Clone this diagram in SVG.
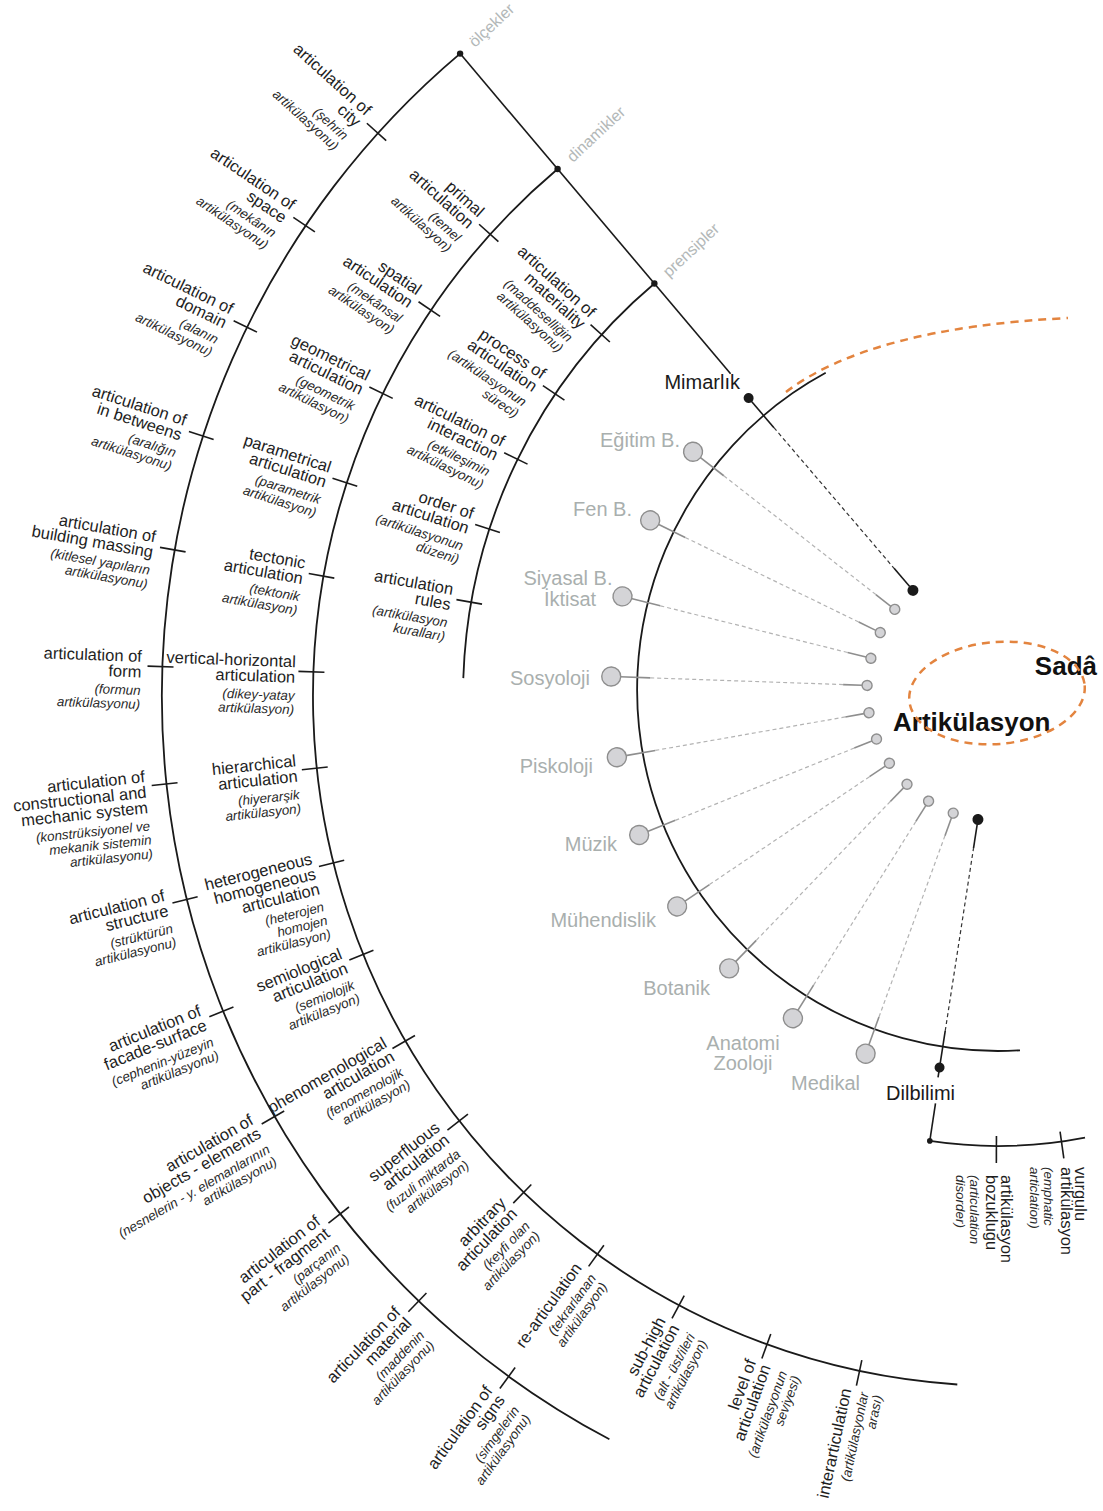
<svg xmlns="http://www.w3.org/2000/svg" width="1103" height="1511" viewBox="0 0 1103 1511">
<style>
.arc{fill:none;stroke:#1a1a1a;stroke-width:1.8}
.tk{stroke:#1a1a1a;stroke-width:1.6}
.b{font-family:"Liberation Sans",Arial,sans-serif;font-size:16.5px;fill:#1e1e1e;text-anchor:end}
.i{font-family:"Liberation Sans",Arial,sans-serif;font-size:13.4px;font-style:italic;fill:#2a2a2a;text-anchor:end}
.bs{font-family:"Liberation Sans",Arial,sans-serif;font-size:16.5px;fill:#1e1e1e}
.is{font-family:"Liberation Sans",Arial,sans-serif;font-size:13.4px;font-style:italic;fill:#2a2a2a}
.g{font-family:"Liberation Sans",Arial,sans-serif;font-size:20px;fill:#a9afae}
.k{font-family:"Liberation Sans",Arial,sans-serif;font-size:20px;fill:#1a1a1a}
.cat{font-family:"Liberation Sans",Arial,sans-serif;font-size:16px;fill:#b3b8b8}
.big{font-family:"Liberation Sans",Arial,sans-serif;font-size:26px;font-weight:bold;fill:#111}
.gc{fill:#d4d4d7;stroke:#8e8e8e;stroke-width:1.4}
.gs{stroke:#8e8e8e;stroke-width:1.6}
.gd{stroke:#b3b3b3;stroke-width:1.2;stroke-dasharray:4 3}
.ks{stroke:#1a1a1a;stroke-width:1.6}
.kd{stroke:#333;stroke-width:1.2;stroke-dasharray:4 3}
.or{fill:none;stroke:#e3843f;stroke-width:2.5;stroke-dasharray:8 6}
</style>

<g id="arcs">
<path class="arc" d="M 460.1 53.6 A 841 841 0 0 0 609.4 1439.3"/>
<path class="arc" d="M 557.6 169 A 690 690 0 0 0 957.3 1384.5"/>
<path class="arc" d="M 654.4 283.5 A 540 540 0 0 0 463.3 678.1"/>
<path class="arc" d="M 825.7 372.8 A 361 361 0 0 0 1020 1050.3"/>
<path class="arc" d="M 929.8 1140.9 A 456 456 0 0 0 1085 1137.6"/>
<path class="or" d="M 786 392 Q 870 328 1068 318"/>
</g>

<g id="connectors">
<line class="ks" x1="460.1" y1="53.6" x2="730.6" y2="373.7"/>
<line class="ks" x1="935.5" y1="1103.3" x2="929.8" y2="1140.9"/>
<g transform="rotate(229.5 998 690)"><line class="ks" x1="1382" y1="690" x2="1343" y2="690"/><line class="kd" x1="1343" y1="690" x2="1158" y2="690"/><line class="ks" x1="1158" y1="690" x2="1134" y2="690"/></g>
<g transform="rotate(98.8 998 690)"><line class="ks" x1="1390" y1="690" x2="1343" y2="690"/><line class="kd" x1="1343" y1="690" x2="1158" y2="690"/><line class="ks" x1="1158" y1="690" x2="1134" y2="690"/></g>
<g transform="rotate(218 998 690)"><line class="gs" x1="1376" y1="690" x2="1346" y2="690"/><line class="gd" x1="1346" y1="690" x2="1153" y2="690"/><line class="gs" x1="1153" y1="690" x2="1134" y2="690"/></g>
<g transform="rotate(206 998 690)"><line class="gs" x1="1376" y1="690" x2="1346" y2="690"/><line class="gd" x1="1346" y1="690" x2="1153" y2="690"/><line class="gs" x1="1153" y1="690" x2="1134" y2="690"/></g>
<g transform="rotate(194 998 690)"><line class="gs" x1="1376" y1="690" x2="1346" y2="690"/><line class="gd" x1="1346" y1="690" x2="1153" y2="690"/><line class="gs" x1="1153" y1="690" x2="1134" y2="690"/></g>
<g transform="rotate(182 998 690)"><line class="gs" x1="1376" y1="690" x2="1346" y2="690"/><line class="gd" x1="1346" y1="690" x2="1153" y2="690"/><line class="gs" x1="1153" y1="690" x2="1134" y2="690"/></g>
<g transform="rotate(170 998 690)"><line class="gs" x1="1376" y1="690" x2="1346" y2="690"/><line class="gd" x1="1346" y1="690" x2="1153" y2="690"/><line class="gs" x1="1153" y1="690" x2="1134" y2="690"/></g>
<g transform="rotate(158 998 690)"><line class="gs" x1="1376" y1="690" x2="1346" y2="690"/><line class="gd" x1="1346" y1="690" x2="1153" y2="690"/><line class="gs" x1="1153" y1="690" x2="1134" y2="690"/></g>
<g transform="rotate(146 998 690)"><line class="gs" x1="1376" y1="690" x2="1346" y2="690"/><line class="gd" x1="1346" y1="690" x2="1153" y2="690"/><line class="gs" x1="1153" y1="690" x2="1134" y2="690"/></g>
<g transform="rotate(134 998 690)"><line class="gs" x1="1376" y1="690" x2="1346" y2="690"/><line class="gd" x1="1346" y1="690" x2="1153" y2="690"/><line class="gs" x1="1153" y1="690" x2="1134" y2="690"/></g>
<g transform="rotate(122 998 690)"><line class="gs" x1="1376" y1="690" x2="1346" y2="690"/><line class="gd" x1="1346" y1="690" x2="1153" y2="690"/><line class="gs" x1="1153" y1="690" x2="1134" y2="690"/></g>
<g transform="rotate(110 998 690)"><line class="gs" x1="1376" y1="690" x2="1346" y2="690"/><line class="gd" x1="1346" y1="690" x2="1153" y2="690"/><line class="gs" x1="1153" y1="690" x2="1134" y2="690"/></g>
</g>

<g id="n-categories">
<circle cx="460.1" cy="53.6" r="3.2" fill="#1a1a1a"/>
<circle cx="557.6" cy="169" r="3.2" fill="#1a1a1a"/>
<circle cx="654.4" cy="283.5" r="3.2" fill="#1a1a1a"/>
<text class="cat" transform="translate(475 48) rotate(-43)">ölçekler</text>
<text class="cat" transform="translate(573 163) rotate(-43)">dinamikler</text>
<text class="cat" transform="translate(669 278) rotate(-43)">prensipler</text>
</g>

<!-- outer arc labels -->
<g id="n-city" transform="translate(1003 696) rotate(42) translate(-841 0)"><line class="tk" x1="-15" y1="0" x2="11" y2="0"/><text class="b"><tspan x="-21" y="-4">articulation of</tspan><tspan x="-21" y="11.5">city</tspan></text><text class="i"><tspan x="-21" y="29">(şehrin</tspan><tspan x="-21" y="43">artikülasyonu)</tspan></text></g>
<g id="n-space" transform="translate(1003 696) rotate(34) translate(-841 0)"><line class="tk" x1="-15" y1="0" x2="11" y2="0"/><text class="b"><tspan x="-21" y="-4">articulation of</tspan><tspan x="-21" y="11.5">space</tspan></text><text class="i"><tspan x="-21" y="29">(mekânın</tspan><tspan x="-21" y="43">artikülasyonu)</tspan></text></g>
<g id="n-domain" transform="translate(1003 696) rotate(26) translate(-841 0)"><line class="tk" x1="-15" y1="0" x2="11" y2="0"/><text class="b"><tspan x="-21" y="-4">articulation of</tspan><tspan x="-21" y="11.5">domain</tspan></text><text class="i"><tspan x="-21" y="29">(alanın</tspan><tspan x="-21" y="43">artikülasyonu)</tspan></text></g>
<g id="n-inbetweens" transform="translate(1003 696) rotate(18) translate(-841 0)"><line class="tk" x1="-15" y1="0" x2="11" y2="0"/><text class="b"><tspan x="-21" y="-4">articulation of</tspan><tspan x="-21" y="11.5">in betweens</tspan></text><text class="i"><tspan x="-21" y="29">(aralığın</tspan><tspan x="-21" y="43">artikülasyonu)</tspan></text></g>
<g id="n-massing" transform="translate(1003 696) rotate(10) translate(-841 0)"><line class="tk" x1="-15" y1="0" x2="11" y2="0"/><text class="b"><tspan x="-21" y="-4">articulation of</tspan><tspan x="-21" y="11.5">building massing</tspan></text><text class="i"><tspan x="-21" y="29">(kitlesel yapıların</tspan><tspan x="-21" y="43">artikülasyonu)</tspan></text></g>
<g id="n-form" transform="translate(1003 696) rotate(2) translate(-841 0)"><line class="tk" x1="-15" y1="0" x2="11" y2="0"/><text class="b"><tspan x="-21" y="-4">articulation of</tspan><tspan x="-21" y="11.5">form</tspan></text><text class="i"><tspan x="-21" y="29">(formun</tspan><tspan x="-21" y="43">artikülasyonu)</tspan></text></g>
<g id="n-constructional" transform="translate(1003 696) rotate(-6) translate(-841 0)"><line class="tk" x1="-15" y1="0" x2="11" y2="0"/><text class="b"><tspan x="-21" y="-4">articulation of</tspan><tspan x="-21" y="11.5">constructional and</tspan><tspan x="-21" y="27">mechanic system</tspan></text><text class="i"><tspan x="-21" y="44.5">(konstrüksiyonel ve</tspan><tspan x="-21" y="58.5">mekanik sistemin</tspan><tspan x="-21" y="72.5">artikülasyonu)</tspan></text></g>
<g id="n-structure" transform="translate(1003 696) rotate(-14) translate(-841 0)"><line class="tk" x1="-15" y1="0" x2="11" y2="0"/><text class="b"><tspan x="-21" y="-4">articulation of</tspan><tspan x="-21" y="11.5">structure</tspan></text><text class="i"><tspan x="-21" y="29">(strüktürün</tspan><tspan x="-21" y="43">artikülasyonu)</tspan></text></g>
<g id="n-facade" transform="translate(1003 696) rotate(-22) translate(-841 0)"><line class="tk" x1="-15" y1="0" x2="11" y2="0"/><text class="b"><tspan x="-21" y="-4">articulation of</tspan><tspan x="-21" y="11.5">facade-surface</tspan></text><text class="i"><tspan x="-21" y="29">(cephenin-yüzeyin</tspan><tspan x="-21" y="43">artikülasyonu)</tspan></text></g>
<g id="n-objects" transform="translate(1003 696) rotate(-30) translate(-841 0)"><line class="tk" x1="-15" y1="0" x2="11" y2="0"/><text class="b"><tspan x="-21" y="-4">articulation of</tspan><tspan x="-21" y="11.5">objects - elements</tspan></text><text class="i"><tspan x="-21" y="29">(nesnelerin - y. elemanlarının</tspan><tspan x="-21" y="43">artikülasyonu)</tspan></text></g>
<g id="n-part" transform="translate(1003 696) rotate(-38) translate(-841 0)"><line class="tk" x1="-15" y1="0" x2="11" y2="0"/><text class="b"><tspan x="-21" y="-4">articulation of</tspan><tspan x="-21" y="11.5">part - fragment</tspan></text><text class="i"><tspan x="-21" y="29">(parçanın</tspan><tspan x="-21" y="43">artikülasyonu)</tspan></text></g>
<g id="n-material" transform="translate(1003 696) rotate(-46) translate(-841 0)"><line class="tk" x1="-15" y1="0" x2="11" y2="0"/><text class="b"><tspan x="-21" y="-4">articulation of</tspan><tspan x="-21" y="11.5">material</tspan></text><text class="i"><tspan x="-21" y="29">(maddenin</tspan><tspan x="-21" y="43">artikülasyonu)</tspan></text></g>
<g id="n-signs" transform="translate(1003 696) rotate(-54) translate(-841 0)"><line class="tk" x1="-15" y1="0" x2="11" y2="0"/><text class="b"><tspan x="-21" y="-4">articulation of</tspan><tspan x="-21" y="11.5">signs</tspan></text><text class="i"><tspan x="-21" y="29">(simgelerin</tspan><tspan x="-21" y="43">artikülasyonu)</tspan></text></g>

<!-- dinamikler arc labels -->
<g id="n-primal" transform="translate(1003 696) rotate(42) translate(-690 0)"><line class="tk" x1="-15" y1="0" x2="11" y2="0"/><text class="b"><tspan x="-20" y="-4">primal</tspan><tspan x="-20" y="11.5">articulation</tspan></text><text class="i"><tspan x="-20" y="29">(temel</tspan><tspan x="-20" y="43">artikülasyon)</tspan></text></g>
<g id="n-spatial" transform="translate(1003 696) rotate(34) translate(-690 0)"><line class="tk" x1="-15" y1="0" x2="11" y2="0"/><text class="b"><tspan x="-20" y="-4">spatial</tspan><tspan x="-20" y="11.5">articulation</tspan></text><text class="i"><tspan x="-20" y="29">(mekânsal</tspan><tspan x="-20" y="43">artikülasyon)</tspan></text></g>
<g id="n-geometrical" transform="translate(1003 696) rotate(26) translate(-690 0)"><line class="tk" x1="-15" y1="0" x2="11" y2="0"/><text class="b"><tspan x="-20" y="-4">geometrical</tspan><tspan x="-20" y="11.5">articulation</tspan></text><text class="i"><tspan x="-20" y="29">(geometrik</tspan><tspan x="-20" y="43">artikülasyon)</tspan></text></g>
<g id="n-parametrical" transform="translate(1003 696) rotate(18) translate(-690 0)"><line class="tk" x1="-15" y1="0" x2="11" y2="0"/><text class="b"><tspan x="-20" y="-4">parametrical</tspan><tspan x="-20" y="11.5">articulation</tspan></text><text class="i"><tspan x="-20" y="29">(parametrik</tspan><tspan x="-20" y="43">artikülasyon)</tspan></text></g>
<g id="n-tectonic" transform="translate(1003 696) rotate(10) translate(-690 0)"><line class="tk" x1="-15" y1="0" x2="11" y2="0"/><text class="b"><tspan x="-20" y="-4">tectonic</tspan><tspan x="-20" y="11.5">articulation</tspan></text><text class="i"><tspan x="-20" y="29">(tektonik</tspan><tspan x="-20" y="43">artikülasyon)</tspan></text></g>
<g id="n-verthor" transform="translate(1003 696) rotate(2) translate(-690 0)"><line class="tk" x1="-15" y1="0" x2="11" y2="0"/><text class="b"><tspan x="-18" y="-4">vertical-horizontal</tspan><tspan x="-18" y="11.5">articulation</tspan></text><text class="i"><tspan x="-18" y="29">(dikey-yatay</tspan><tspan x="-18" y="43">artikülasyon)</tspan></text></g>
<g id="n-hierarchical" transform="translate(1003 696) rotate(-6) translate(-690 0)"><line class="tk" x1="-15" y1="0" x2="11" y2="0"/><text class="b"><tspan x="-20" y="-4">hierarchical</tspan><tspan x="-20" y="11.5">articulation</tspan></text><text class="i"><tspan x="-20" y="29">(hiyerarşik</tspan><tspan x="-20" y="43">artikülasyon)</tspan></text></g>
<g id="n-hethom" transform="translate(1003 696) rotate(-14) translate(-690 0)"><line class="tk" x1="-15" y1="0" x2="11" y2="0"/><text class="b"><tspan x="-20" y="-4">heterogeneous</tspan><tspan x="-20" y="11.5">homogeneous</tspan><tspan x="-20" y="27">articulation</tspan></text><text class="i"><tspan x="-20" y="44.5">(heterojen</tspan><tspan x="-20" y="58.5">homojen</tspan><tspan x="-20" y="72.5">artikülasyon)</tspan></text></g>
<g id="n-semiological" transform="translate(1003 696) rotate(-22) translate(-690 0)"><line class="tk" x1="-15" y1="0" x2="11" y2="0"/><text class="b"><tspan x="-20" y="-4">semiological</tspan><tspan x="-20" y="11.5">articulation</tspan></text><text class="i"><tspan x="-20" y="29">(semiolojik</tspan><tspan x="-20" y="43">artikülasyon)</tspan></text></g>
<g id="n-phenomenological" transform="translate(1003 696) rotate(-30) translate(-690 0)"><line class="tk" x1="-15" y1="0" x2="11" y2="0"/><text class="b"><tspan x="-18" y="-4">phenomenological</tspan><tspan x="-18" y="11.5">articulation</tspan></text><text class="i"><tspan x="-18" y="29">(fenomenolojik</tspan><tspan x="-18" y="43">artikülasyon)</tspan></text></g>
<g id="n-superfluous" transform="translate(1003 696) rotate(-38) translate(-690 0)"><line class="tk" x1="-15" y1="0" x2="11" y2="0"/><text class="b"><tspan x="-20" y="-4">superfluous</tspan><tspan x="-20" y="11.5">articulation</tspan></text><text class="i"><tspan x="-20" y="29">(fuzuli miktarda</tspan><tspan x="-20" y="43">artikülasyon)</tspan></text></g>
<g id="n-arbitrary" transform="translate(1003 696) rotate(-46) translate(-690 0)"><line class="tk" x1="-15" y1="0" x2="11" y2="0"/><text class="b"><tspan x="-20" y="-4">arbitrary</tspan><tspan x="-20" y="11.5">articulation</tspan></text><text class="i"><tspan x="-20" y="29">(keyfi olan</tspan><tspan x="-20" y="43">artikülasyon)</tspan></text></g>
<g id="n-rearticulation" transform="translate(1003 696) rotate(-54) translate(-690 0)"><line class="tk" x1="-15" y1="0" x2="11" y2="0"/><text class="b"><tspan x="-20" y="-4">re-articulation</tspan></text><text class="i"><tspan x="-20" y="13.5">(tekrarlanan</tspan><tspan x="-20" y="27.5">artikülasyon)</tspan></text></g>
<g id="n-subhigh" transform="translate(1003 696) rotate(-62) translate(-690 0)"><line class="tk" x1="-15" y1="0" x2="11" y2="0"/><text class="b"><tspan x="-20" y="-4">sub-high</tspan><tspan x="-20" y="11.5">articulation</tspan></text><text class="i"><tspan x="-20" y="29">(alt - üst/ileri</tspan><tspan x="-20" y="43">artikülasyon)</tspan></text></g>
<g id="n-level" transform="translate(1003 696) rotate(-70) translate(-690 0)"><line class="tk" x1="-15" y1="0" x2="11" y2="0"/><text class="b"><tspan x="-20" y="-4">level of</tspan><tspan x="-20" y="11.5">articulation</tspan></text><text class="i"><tspan x="-20" y="29">(artikülasyonun</tspan><tspan x="-20" y="43">seviyesi)</tspan></text></g>
<g id="n-interarticulation" transform="translate(1003 696) rotate(-78) translate(-690 0)"><line class="tk" x1="-15" y1="0" x2="11" y2="0"/><text class="b"><tspan x="-20" y="-4">interarticulation</tspan></text><text class="i"><tspan x="-20" y="13.5">(artikülasyonlar</tspan><tspan x="-20" y="27.5">arası)</tspan></text></g>

<!-- prensipler arc labels -->
<g id="n-materiality" transform="translate(1003 696) rotate(42) translate(-540 0)"><line class="tk" x1="-15" y1="0" x2="11" y2="0"/><text class="b"><tspan x="-20" y="-4">articulation of</tspan><tspan x="-20" y="11.5">materiality</tspan></text><text class="i"><tspan x="-20" y="29">(maddeselliğin</tspan><tspan x="-20" y="43">artikülasyonu)</tspan></text></g>
<g id="n-process" transform="translate(1003 696) rotate(34) translate(-540 0)"><line class="tk" x1="-15" y1="0" x2="11" y2="0"/><text class="b"><tspan x="-20" y="-4">process of</tspan><tspan x="-20" y="11.5">articulation</tspan></text><text class="i"><tspan x="-20" y="29">(artikülasyonun</tspan><tspan x="-20" y="43">süreci)</tspan></text></g>
<g id="n-interaction" transform="translate(1003 696) rotate(26) translate(-540 0)"><line class="tk" x1="-15" y1="0" x2="11" y2="0"/><text class="b"><tspan x="-20" y="-4">articulation of</tspan><tspan x="-20" y="11.5">interaction</tspan></text><text class="i"><tspan x="-20" y="29">(etkileşimin</tspan><tspan x="-20" y="43">artikülasyonu)</tspan></text></g>
<g id="n-order" transform="translate(1003 696) rotate(18) translate(-540 0)"><line class="tk" x1="-15" y1="0" x2="11" y2="0"/><text class="b"><tspan x="-20" y="-4">order of</tspan><tspan x="-20" y="11.5">articulation</tspan></text><text class="i"><tspan x="-20" y="29">(artikülasyonun</tspan><tspan x="-20" y="43">düzeni)</tspan></text></g>
<g id="n-rules" transform="translate(1003 696) rotate(10) translate(-540 0)"><line class="tk" x1="-15" y1="0" x2="11" y2="0"/><text class="b"><tspan x="-20" y="-4">articulation</tspan><tspan x="-20" y="11.5">rules</tspan></text><text class="i"><tspan x="-20" y="29">(artikülasyon</tspan><tspan x="-20" y="43">kuralları)</tspan></text></g>

<!-- disciplines -->
<g id="n-mimarlik"><circle transform="rotate(229.5 998 690)" cx="1382" cy="690" r="5" fill="#1a1a1a"/><circle transform="rotate(229.5 998 690)" cx="1129" cy="690" r="5.5" fill="#1a1a1a"/><text class="k" x="740" y="389" text-anchor="end">Mimarlık</text></g>
<g id="n-egitim"><circle class="gc" transform="rotate(218 998 690)" cx="1385" cy="690" r="9.5"/><circle class="gc" transform="rotate(218 998 690)" cx="1129" cy="690" r="5"/><text class="g" x="680" y="447" text-anchor="end">Eğitim B.</text></g>
<g id="n-fen"><circle class="gc" transform="rotate(206 998 690)" cx="1385" cy="690" r="9.5"/><circle class="gc" transform="rotate(206 998 690)" cx="1129" cy="690" r="5"/><text class="g" x="632" y="516" text-anchor="end">Fen B.</text></g>
<g id="n-siyasal"><circle class="gc" transform="rotate(194 998 690)" cx="1385" cy="690" r="9.5"/><circle class="gc" transform="rotate(194 998 690)" cx="1129" cy="690" r="5"/><text class="g" x="568" y="585" text-anchor="middle">Siyasal B.</text><text class="g" x="570" y="606" text-anchor="middle">İktisat</text></g>
<g id="n-sosyoloji"><circle class="gc" transform="rotate(182 998 690)" cx="1385" cy="690" r="9.5"/><circle class="gc" transform="rotate(182 998 690)" cx="1129" cy="690" r="5"/><text class="g" x="590" y="685" text-anchor="end">Sosyoloji</text></g>
<g id="n-piskoloji"><circle class="gc" transform="rotate(170 998 690)" cx="1385" cy="690" r="9.5"/><circle class="gc" transform="rotate(170 998 690)" cx="1129" cy="690" r="5"/><text class="g" x="593" y="773" text-anchor="end">Piskoloji</text></g>
<g id="n-muzik"><circle class="gc" transform="rotate(158 998 690)" cx="1385" cy="690" r="9.5"/><circle class="gc" transform="rotate(158 998 690)" cx="1129" cy="690" r="5"/><text class="g" x="617" y="851" text-anchor="end">Müzik</text></g>
<g id="n-muhendislik"><circle class="gc" transform="rotate(146 998 690)" cx="1385" cy="690" r="9.5"/><circle class="gc" transform="rotate(146 998 690)" cx="1129" cy="690" r="5"/><text class="g" x="656" y="927" text-anchor="end">Mühendislik</text></g>
<g id="n-botanik"><circle class="gc" transform="rotate(134 998 690)" cx="1385" cy="690" r="9.5"/><circle class="gc" transform="rotate(134 998 690)" cx="1129" cy="690" r="5"/><text class="g" x="710" y="995" text-anchor="end">Botanik</text></g>
<g id="n-anatomi"><circle class="gc" transform="rotate(122 998 690)" cx="1385" cy="690" r="9.5"/><circle class="gc" transform="rotate(122 998 690)" cx="1129" cy="690" r="5"/><text class="g" x="743" y="1050" text-anchor="middle">Anatomi</text><text class="g" x="743" y="1070" text-anchor="middle">Zooloji</text></g>
<g id="n-medikal"><circle class="gc" transform="rotate(110 998 690)" cx="1385" cy="690" r="9.5"/><circle class="gc" transform="rotate(110 998 690)" cx="1129" cy="690" r="5"/><text class="g" x="860" y="1090" text-anchor="end">Medikal</text></g>
<g id="n-dilbilimi"><circle transform="rotate(98.8 998 690)" cx="1380" cy="690" r="5" fill="#1a1a1a"/><circle transform="rotate(98.8 998 690)" cx="1129" cy="690" r="5.5" fill="#1a1a1a"/><circle cx="929.8" cy="1140.9" r="2.8" fill="#1a1a1a"/><text class="k" x="955" y="1100" text-anchor="end">Dilbilimi</text></g>

<g id="n-disorder"><line class="tk" transform="rotate(90.2 998 690)" x1="1444" y1="690" x2="1471" y2="690"/><text transform="translate(1001 1175) rotate(90)"><tspan class="bs" x="0" y="0">artikülasyon</tspan><tspan class="bs" x="0" y="15">bozukluğu</tspan><tspan class="is" x="0" y="31">(articulation</tspan><tspan class="is" x="0" y="45">disorder)</tspan></text></g>
<g id="n-emphatic"><line class="tk" transform="rotate(82 998 690)" x1="1444" y1="690" x2="1471" y2="690"/><text transform="translate(1075 1167) rotate(90)"><tspan class="bs" x="0" y="0">vurgulu</tspan><tspan class="bs" x="0" y="14">artikülasyon</tspan><tspan class="is" x="0" y="31">(emphatic</tspan><tspan class="is" x="0" y="45">articlation)</tspan></text></g>

<g id="n-sada">
<text class="big" x="1097" y="675" text-anchor="end">Sadâ</text>
<text class="big" x="893" y="731">Artikülasyon</text>
<ellipse class="or" cx="997" cy="693" rx="88" ry="51" transform="rotate(-5 997 693)"/>
</g>
</svg>
